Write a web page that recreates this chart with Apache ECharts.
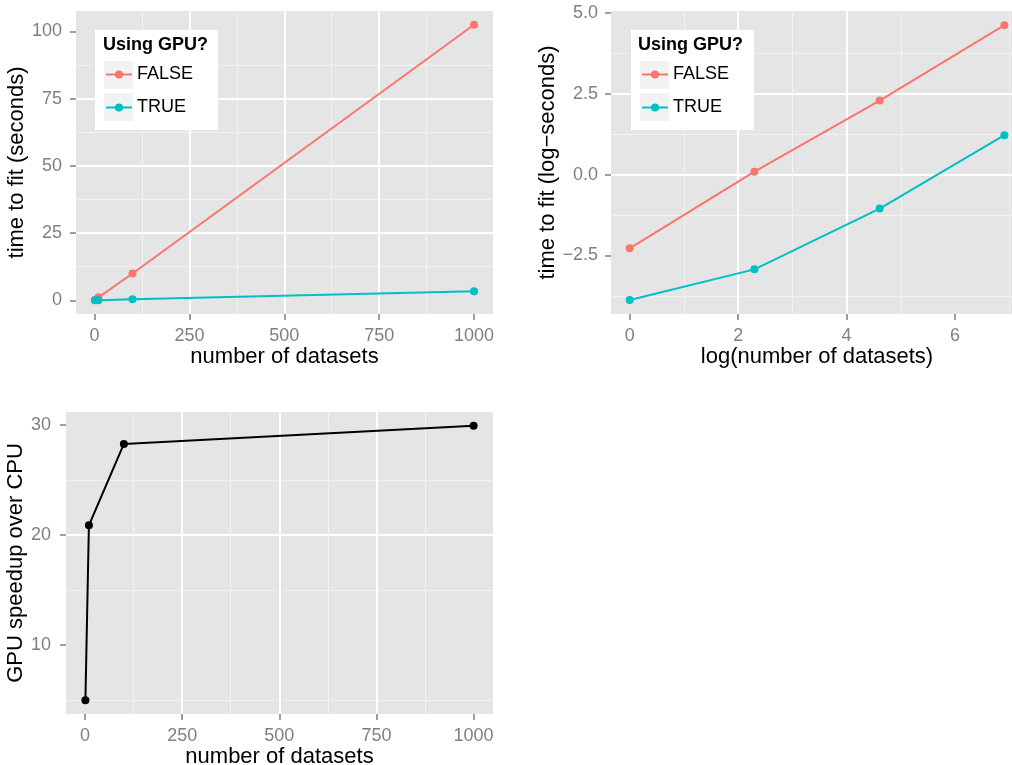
<!DOCTYPE html>
<html>
<head>
<meta charset="utf-8">
<script src="https://cdn.jsdelivr.net/npm/echarts@6/dist/echarts.min.js"></script>
<style>
  html, body { margin: 0; padding: 0; background: #fff; }
  #chart { width: 1012px; height: 765px; }
</style>
</head>
<body>
<div id="chart"></div>
<script>
// data
const nDatasets = [1, 10, 100, 1000];
const timeCPU = [0.102, 1.10, 9.95, 102.5];
const timeGPU = [0.021, 0.053, 0.35, 3.40];

const logN = [0, 2.30, 4.61, 6.91];
const logTimeCPU = [-2.28, 0.09, 2.29, 4.62];
const logTimeGPU = [-3.88, -2.93, -1.05, 1.22];

const speedup = [5.0, 20.9, 28.3, 29.95];

// tick values
const ticksN = [0, 250, 500, 750, 1000];
const ticksSec = [0, 25, 50, 75, 100];
const ticksLogN = [0, 2, 4, 6];
const ticksLogSec = [-2.5, 0, 2.5, 5];
const ticksSpeed = [10, 20, 30];

const groups = ['FALSE', 'TRUE'];
const colFalse = '#F8766D';
const colTrue = '#00BFC4';

const FONT = '"Liberation Sans", Arial, Helvetica, sans-serif';

function pairs(xs, ys) {
  return xs.map((x, i) => [x, ys[i]]);
}

function minusFmt(digits) {
  return function (v) {
    return v.toFixed(digits).replace('-', '\u2212');
  };
}

// one axis: ticks, labels, white major grid and light minor grid
function makeAxis(kind, grid, min, max, ticks, major, name, nameGap, margin, fmt) {
  const ax = {
    type: 'value', gridIndex: grid, min: min, max: max,
    minInterval: major, maxInterval: major,
    name: name, nameLocation: 'middle', nameGap: nameGap,
    nameTextStyle: { color: '#000', fontSize: 22, fontFamily: FONT },
    axisLine: { show: true, onZero: false, lineStyle: { color: 'rgba(0,0,0,0)' } },
    axisTick: { show: true, length: 6, customValues: ticks,
      lineStyle: { color: '#7f7f7f', width: 1.5 } },
    axisLabel: {
      show: true, margin: margin, color: '#7f7f7f', fontSize: 18, fontFamily: FONT,
      formatter: fmt, customValues: ticks
    },
    splitLine: { show: true, showMinLine: false, showMaxLine: false,
      lineStyle: { color: '#ffffff', width: 2 } },
    minorTick: { show: false, splitNumber: 2 },
    minorSplitLine: { show: true, lineStyle: { color: '#f2f2f2', width: 1 } }
  };
  if (kind === 'y') { ax.nameRotate = 90; }
  return ax;
}

const xAxes = [
  makeAxis('x', 0, -48.95, 1049.95, ticksN, 250, 'number of datasets', 31, 13, minusFmt(0)),
  makeAxis('x', 1, -0.345, 7.253, ticksLogN, 2, 'log(number of datasets)', 31, 13, minusFmt(0)),
  makeAxis('x', 2, -48.95, 1049.95, ticksN, 250, 'number of datasets', 31, 13, minusFmt(0))
];
const yAxes = [
  makeAxis('y', 0, -5.1, 107.6, ticksSec, 25, 'time to fit (seconds)', 46, 14, minusFmt(0)),
  makeAxis('y', 1, -4.31, 5.06, ticksLogSec, 2.5, 'time to fit (log\u2212seconds)', 50, 13, minusFmt(1)),
  makeAxis('y', 2, 3.75, 31.2, ticksSpeed, 10, 'GPU speedup over CPU', 37, 15, minusFmt(0))
];

function lineSeries(name, color, axisIndex, data) {
  return {
    name: name, type: 'line', xAxisIndex: axisIndex, yAxisIndex: axisIndex, data: data,
    symbol: 'circle', symbolSize: 8, showSymbol: true,
    lineStyle: { color: color, width: 2 }, itemStyle: { color: color },
    z: 3, animation: false
  };
}

function legendBox(left) {
  return [
    { type: 'rect', left: left, top: 30, shape: { width: 123, height: 100 },
      style: { fill: '#ffffff' }, z: 5 },
    { type: 'rect', left: left + 8, top: 60, shape: { width: 30, height: 29 },
      style: { fill: '#f2f2f2', stroke: '#ffffff' }, z: 6 },
    { type: 'rect', left: left + 8, top: 92, shape: { width: 30, height: 29 },
      style: { fill: '#f2f2f2', stroke: '#ffffff' }, z: 6 }
  ];
}

function legendItems(left) {
  return {
    data: groups, orient: 'vertical', left: left + 10, top: 65,
    itemWidth: 26, itemHeight: 10, itemGap: 14, padding: 0, z: 10,
    selectedMode: false,
    textStyle: { color: '#000', fontSize: 18, fontFamily: FONT, lineHeight: 19 }
  };
}

function panel(left, top, width, height) {
  return {
    left: left, top: top, width: width, height: height,
    show: true, backgroundColor: '#e5e5e5', borderWidth: 0,
    containLabel: false, outerBoundsMode: 'none'
  };
}

const chart = echarts.init(document.getElementById('chart'), null, { renderer: 'canvas' });

const option = {
  backgroundColor: '#ffffff',
  animation: false,
  grid: [
    panel(76, 11, 417, 303),
    panel(611, 11, 412, 303),
    panel(66, 412, 427, 302)
  ],
  title: [
    { text: 'Using GPU?', left: 103, top: 36, padding: 0, z: 10,
      textStyle: { fontSize: 18, fontWeight: 'bold', color: '#000', fontFamily: FONT } },
    { text: 'Using GPU?', left: 638, top: 36, padding: 0, z: 10,
      textStyle: { fontSize: 18, fontWeight: 'bold', color: '#000', fontFamily: FONT } }
  ],
  legend: [legendItems(95), legendItems(631)],
  graphic: [].concat(legendBox(95), legendBox(631)),
  xAxis: xAxes,
  yAxis: yAxes,
  series: [
    lineSeries('FALSE', colFalse, 0, pairs(nDatasets, timeCPU)),
    lineSeries('TRUE', colTrue, 0, pairs(nDatasets, timeGPU)),
    lineSeries('FALSE', colFalse, 1, pairs(logN, logTimeCPU)),
    lineSeries('TRUE', colTrue, 1, pairs(logN, logTimeGPU)),
    lineSeries('speedup', '#000000', 2, pairs(nDatasets, speedup))
  ]
};

chart.setOption(option);
</script>
</body>
</html>
